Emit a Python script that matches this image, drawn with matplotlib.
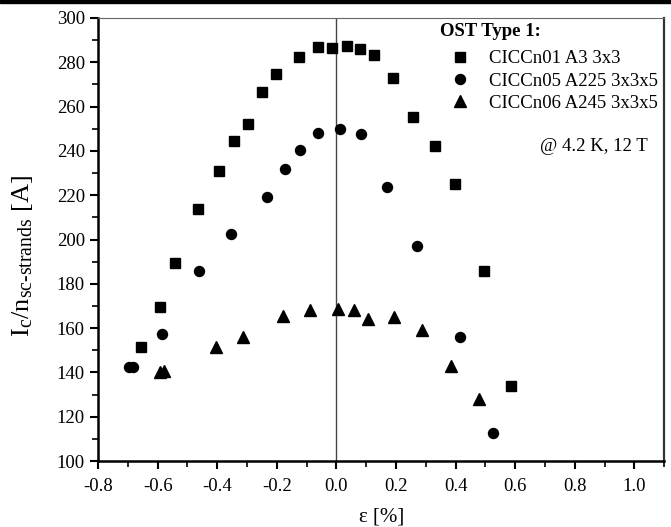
import matplotlib
matplotlib.use("Agg")
import matplotlib.pyplot as plt
import matplotlib._mathtext as mathtext_internal
from matplotlib.ticker import MultipleLocator
from matplotlib.patches import Rectangle

plt.rcParams['font.family'] = ['Liberation Serif', 'DejaVu Serif']
plt.rcParams['mathtext.fontset'] = 'custom'
plt.rcParams['mathtext.rm'] = 'Liberation Serif'
plt.rcParams['mathtext.it'] = 'Liberation Serif:italic'
# subscripts in the original label are a bit larger than mathtext's default
mathtext_internal.SHRINK_FACTOR = 0.75

# CICCn01 A3 3x3 (squares)
sq_x = [-0.657, -0.592, -0.543, -0.464, -0.394, -0.344, -0.296, -0.249, -0.202,
        -0.127, -0.062, -0.015, 0.034, 0.080, 0.125, 0.189, 0.257, 0.330, 0.397,
        0.495, 0.586]
sq_y = [151.6, 169.4, 189.5, 213.8, 231.1, 244.5, 252.3, 266.6, 274.7,
        282.4, 286.8, 286.6, 287.4, 285.9, 283.3, 272.8, 255.2, 242.3, 225.0,
        185.9, 133.9]

# CICCn05 A225 3x3x5 (circles)
ci_x = [-0.695, -0.682, -0.585, -0.462, -0.353, -0.232, -0.173, -0.122, -0.062,
        0.013, 0.083, 0.170, 0.271, 0.414, 0.527]
ci_y = [142.5, 142.3, 157.2, 185.9, 202.3, 219.2, 232.0, 240.4, 248.2,
        250.0, 247.8, 223.5, 196.9, 156.1, 112.5]

# CICCn06 A245 3x3x5 (triangles)
tr_x = [-0.592, -0.578, -0.403, -0.315, -0.180, -0.088, 0.006, 0.060, 0.106,
        0.193, 0.288, 0.384, 0.477]
tr_y = [140.3, 140.5, 151.3, 155.8, 165.5, 168.2, 168.5, 168.2, 164.0,
        164.9, 159.1, 143.0, 128.0]

W, H = 671, 527
fig = plt.figure(figsize=(W / 100, H / 100), dpi=100)
ax = fig.add_axes([0.146, 0.125, 0.844, 0.841])

ax.axvline(0, color='#444444', lw=1.0, zorder=1)

ax.plot(sq_x, sq_y, 's', color='black', ms=6.5, ls='none', label='CICCn01 A3 3x3', zorder=3)
ax.plot(ci_x, ci_y, 'o', color='black', ms=7.2, ls='none', label='CICCn05 A225 3x3x5', zorder=3)
ax.plot(tr_x, tr_y, '^', color='black', ms=8, ls='none', label='CICCn06 A245 3x3x5', zorder=3)

ax.set_xlim(-0.8, 1.1)
ax.set_ylim(100, 300)
ax.xaxis.set_minor_locator(MultipleLocator(0.1))
ax.yaxis.set_major_locator(MultipleLocator(20))
ax.yaxis.set_minor_locator(MultipleLocator(10))
ax.set_xticks([-0.8, -0.6, -0.4, -0.2, 0.0, 0.2, 0.4, 0.6, 0.8, 1.0])
ax.xaxis.set_major_formatter(plt.FuncFormatter(lambda v, p: f'{v:.1f}'))

ax.tick_params(which='major', direction='out', length=6, width=1.5, labelsize=13.5,
               top=False, right=False)
ax.tick_params(axis='x', which='major', pad=6)
ax.tick_params(which='minor', direction='out', length=4, width=1.2, top=False, right=False)

for s in ['left', 'bottom']:
    ax.spines[s].set_linewidth(1.8)
    ax.spines[s].set_color('black')
ax.spines['top'].set_linewidth(0.8)
ax.spines['top'].set_color('#666666')
ax.spines['right'].set_linewidth(1.6)
ax.spines['right'].set_color('#333333')

ax.set_xlabel('\u03b5 [%]', fontsize=15, labelpad=9)
ax.set_ylabel(r'$\mathregular{I_c/n_{sc\text{-}strands}}$ [A]', fontsize=19)
ax.yaxis.set_label_coords(-0.112, 0.463)

leg = ax.legend(loc='upper left', bbox_to_anchor=(446 / W, 1 - 50 / H),
                bbox_transform=fig.transFigure, frameon=False,
                fontsize=13.5, handletextpad=0.8, labelspacing=0.28,
                borderpad=0, borderaxespad=0, handlelength=1.5)

fig.text(440 / W, 1 - 32 / H, 'OST Type 1:', fontsize=13.5, fontweight='bold',
         ha='left', va='center')

ax.text(0.876, 0.709, '@ 4.2 K, 12 T', transform=ax.transAxes, fontsize=13.5,
        ha='center', va='center')

fig.patches.append(Rectangle((0, 0.994), 1, 0.006, transform=fig.transFigure,
                             color='black', zorder=0))

fig.savefig('out.png', dpi=100)
